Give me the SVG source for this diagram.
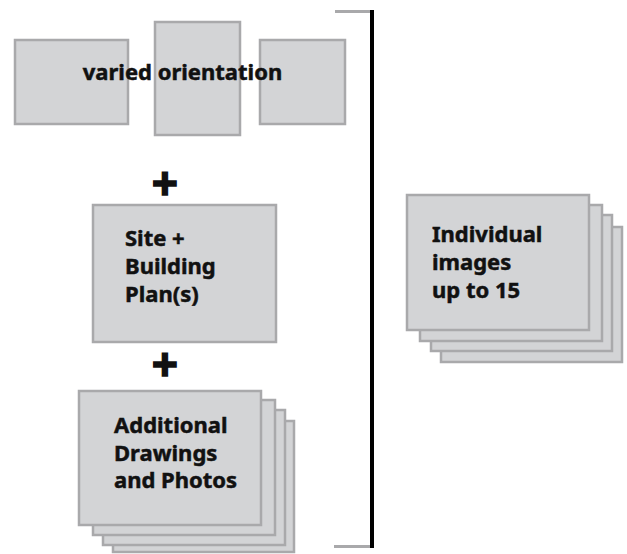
<svg xmlns="http://www.w3.org/2000/svg" width="627" height="554" viewBox="0 0 627 554">
<style>
.box{fill:#d3d4d6;stroke:#a9a9ab;stroke-width:2.5}
.lbl{font-family:"Noto Sans","Liberation Sans",sans-serif;font-weight:700;font-size:22px;fill:#111;stroke:#111;stroke-width:0.5}
.plus{font-family:"Noto Sans","Liberation Sans",sans-serif;font-weight:700;font-size:46px;fill:#111;stroke:#111;stroke-width:1.5;text-anchor:middle}
</style>
<rect width="627" height="554" fill="#fff"/>
<g id="orientation">
<rect class="box" x="15" y="40" width="113" height="84"/>
<rect class="box" x="155" y="22" width="85" height="113"/>
<rect class="box" x="260" y="40" width="85" height="84"/>
<text class="lbl" x="182.5" y="80" text-anchor="middle">varied orientation</text>
</g>
<g id="plus1"><text class="plus" x="165" y="200">+</text></g>
<g id="site">
<rect class="box" x="93" y="205" width="183" height="137"/>
<text class="lbl" x="125" y="246">Site +</text>
<text class="lbl" x="125" y="274">Building</text>
<text class="lbl" x="125" y="302">Plan(s)</text>
</g>
<g id="plus2"><text class="plus" x="165" y="381">+</text></g>
<g id="additional">
<rect class="box" x="113" y="421" width="181" height="131"/>
<rect class="box" x="103" y="410" width="182" height="135"/>
<rect class="box" x="93" y="400" width="182" height="135"/>
<rect class="box" x="79" y="391" width="182" height="134"/>
<text class="lbl" x="114" y="433">Additional</text>
<text class="lbl" x="114" y="461">Drawings</text>
<text class="lbl" x="114" y="488">and Photos</text>
</g>
<g id="individual">
<rect class="box" x="441" y="227" width="181" height="135"/>
<rect class="box" x="431" y="215" width="181" height="136"/>
<rect class="box" x="420" y="205" width="182" height="136"/>
<rect class="box" x="407" y="195" width="182" height="135"/>
<text class="lbl" x="432" y="242">Individual</text>
<text class="lbl" x="432" y="270">images</text>
<text class="lbl" x="432" y="298">up to 15</text>
</g>
<g id="connectors">
<line x1="335" y1="11.5" x2="372" y2="11.5" stroke="#a9a9ab" stroke-width="3"/>
<line x1="334" y1="546.5" x2="372" y2="546.5" stroke="#a9a9ab" stroke-width="3"/>
<line x1="372" y1="10" x2="372" y2="548" stroke="#000" stroke-width="4"/>
</g>
</svg>
